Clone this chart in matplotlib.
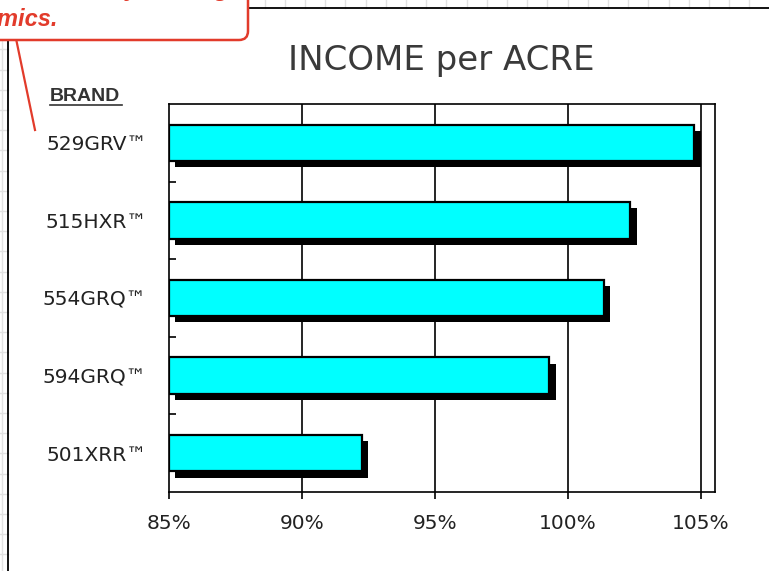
import matplotlib
matplotlib.use("Agg")
import matplotlib.pyplot as plt
import matplotlib.patheffects as pe
from matplotlib.patches import FancyBboxPatch, Rectangle

# data
brands = ["529GRV™", "515HXR™", "554GRQ™", "594GRQ™", "501XRR™"]
income_pct = [104.75, 102.35, 101.35, 99.3, 92.25]
x_ticks = [85, 90, 95, 100, 105]
x_tick_labels = ["85%", "90%", "95%", "100%", "105%"]

W, H = 769, 571
fig = plt.figure(figsize=(W / 100, H / 100), dpi=100)
fig.patch.set_facecolor("white")

# slide background in pixel coordinates
bg = fig.add_axes([0, 0, 1, 1], zorder=0)
bg.set_xlim(0, W)
bg.set_ylim(H, 0)
bg.axis("off")
step = 20.2
gx = 2.0
while gx < W:
    bg.plot([gx, gx], [0, 8], color="#e2e2e2", lw=1)
    if gx < 8:
        bg.plot([gx, gx], [0, H], color="#e2e2e2", lw=1)
    gx += step
gy = 9.0
while gy < H:
    bg.plot([0, 8], [gy, gy], color="#e2e2e2", lw=1)
    gy += step
bg.add_patch(Rectangle((8, 8), W, H, facecolor="white", edgecolor="none"))
bg.plot([8, W], [8, 8], color="black", lw=1.3)
bg.plot([8, 8], [8, H], color="black", lw=1.3)

# red callout (mostly off the slide crop)
red = "#e23b2b"
bg.add_patch(FancyBboxPatch((-40, -40), 288, 80,
                            boxstyle="round,pad=0,rounding_size=9",
                            facecolor="white", edgecolor=red, lw=1.8, zorder=5))
bg.plot([16.5, 35], [41, 130], color=red, lw=1.6, zorder=5)
bg.text(229, -4, "by looking", color=red, fontsize=17, fontweight="bold",
        fontstyle="italic", family="Liberation Sans", ha="right", va="baseline",
        zorder=6)
bg.text(58, 26, "at the economics.", color=red, fontsize=17, fontweight="bold",
        fontstyle="italic", family="Liberation Sans", ha="right", va="baseline",
        zorder=6)

# BRAND header
bg.text(50, 101, "BRAND", color="#333333", fontsize=14, fontweight="bold",
        family="Liberation Sans", ha="left", va="baseline")
bg.plot([50, 122], [104.5, 104.5], color="#333333", lw=1.2)

# title
bg.text(441, 70, "INCOME per ACRE", color="#3a3a3a", fontsize=24.5,
        ha="center", va="baseline")

# chart
ax = fig.add_axes([169 / W, 1 - 492 / H, 546 / W, 388 / H], zorder=2)
ax.set_facecolor("white")
ypos = list(range(len(brands)))
bars = ax.barh(ypos, [v - 85 for v in income_pct], left=85, height=0.47,
               color="#00ffff", edgecolor="black", linewidth=1.6, zorder=3)
for b in bars:
    b.set_path_effects([pe.SimplePatchShadow(offset=(4.5, -4.5),
                                             shadow_rgbFace="black", alpha=1.0),
                        pe.Normal()])

ax.set_xlim(85, 105.53)
ax.set_ylim(len(brands) - 0.5, -0.5)
ax.set_xticks(x_ticks)
ax.set_xticklabels(x_tick_labels, fontsize=14.5, color="#222222")
for x in x_ticks[1:]:
    ax.axvline(x, color="black", lw=1.2, zorder=1)

ax.set_yticks(ypos)
ax.set_yticklabels(brands, fontsize=14.5, color="#222222")
ax.set_yticks([i + 0.5 for i in ypos[:-1]], minor=True)
ax.tick_params(axis="y", which="major", length=0, pad=16)
ax.tick_params(axis="y", which="minor", direction="in", length=5, width=1.2)
ax.tick_params(axis="x", direction="out", length=5, width=1.2, pad=11)
for s in ax.spines.values():
    s.set_color("black")
    s.set_linewidth(1.2)

fig.savefig("out.png", dpi=100)
